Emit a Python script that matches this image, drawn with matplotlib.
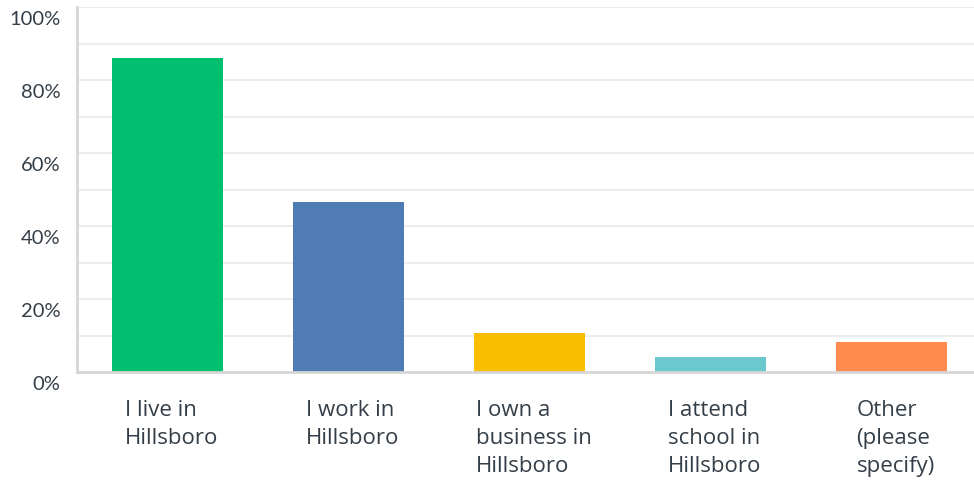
import numpy as np
import matplotlib.pyplot as plt
import matplotlib.transforms as mtransforms

categories = ['I live in\nHillsboro', 'I work in\nHillsboro', 'I own a\nbusiness in\nHillsboro',
              'I attend\nschool in\nHillsboro', 'Other\n(please\nspecify)']
values = [86.0, 46.6, 10.7, 4.1, 8.2]
colors = ['#00bf6f', '#507cb6', '#f9be00', '#6bc8cd', '#ff8b4f']
yticks = [0, 20, 40, 60, 80, 100]
ytick_labels = ['0%', '20%', '40%', '60%', '80%', '100%']

fig = plt.figure(figsize=(9.74, 4.8), dpi=100)
ax = fig.add_axes([77 / 974, 108 / 480, 905 / 974, 365 / 480])

x = np.arange(len(categories))
ax.bar(x, values, width=0.61, color=colors, zorder=3)

ax.set_xlim(-0.5, len(categories) - 0.5)
ax.set_ylim(0, 100)

# light grid every 10%
for v in range(10, 101, 10):
    ax.axhline(v, color='#ececec', lw=1.5, zorder=1)

for s in ['top', 'right']:
    ax.spines[s].set_visible(False)
ax.spines['left'].set_color('#d6d6d6')
ax.spines['left'].set_linewidth(2)
ax.spines['bottom'].set_color('#d6d6d6')
ax.spines['bottom'].set_linewidth(2)
ax.spines['bottom'].set_zorder(4)

ax.set_yticks(yticks)
ax.set_yticklabels(ytick_labels, fontsize=14.5, color='#333e48', family='Lato')
ax.tick_params(axis='y', length=0, pad=12)
offset = mtransforms.ScaledTranslation(0, -11 / 100, fig.dpi_scale_trans)
for lab in ax.get_yticklabels():
    lab.set_transform(lab.get_transform() + offset)

ax.set_xticks(x)
ax.set_xticklabels(categories, fontsize=16, color='#333e48', family='Open Sans',
                   multialignment='left', linespacing=1.45)
ax.tick_params(axis='x', length=0, pad=20)
offx = mtransforms.ScaledTranslation(4 / 100, 0, fig.dpi_scale_trans)
for lab in ax.get_xticklabels():
    lab.set_transform(lab.get_transform() + offx)

fig.savefig('out.png', dpi=100)
